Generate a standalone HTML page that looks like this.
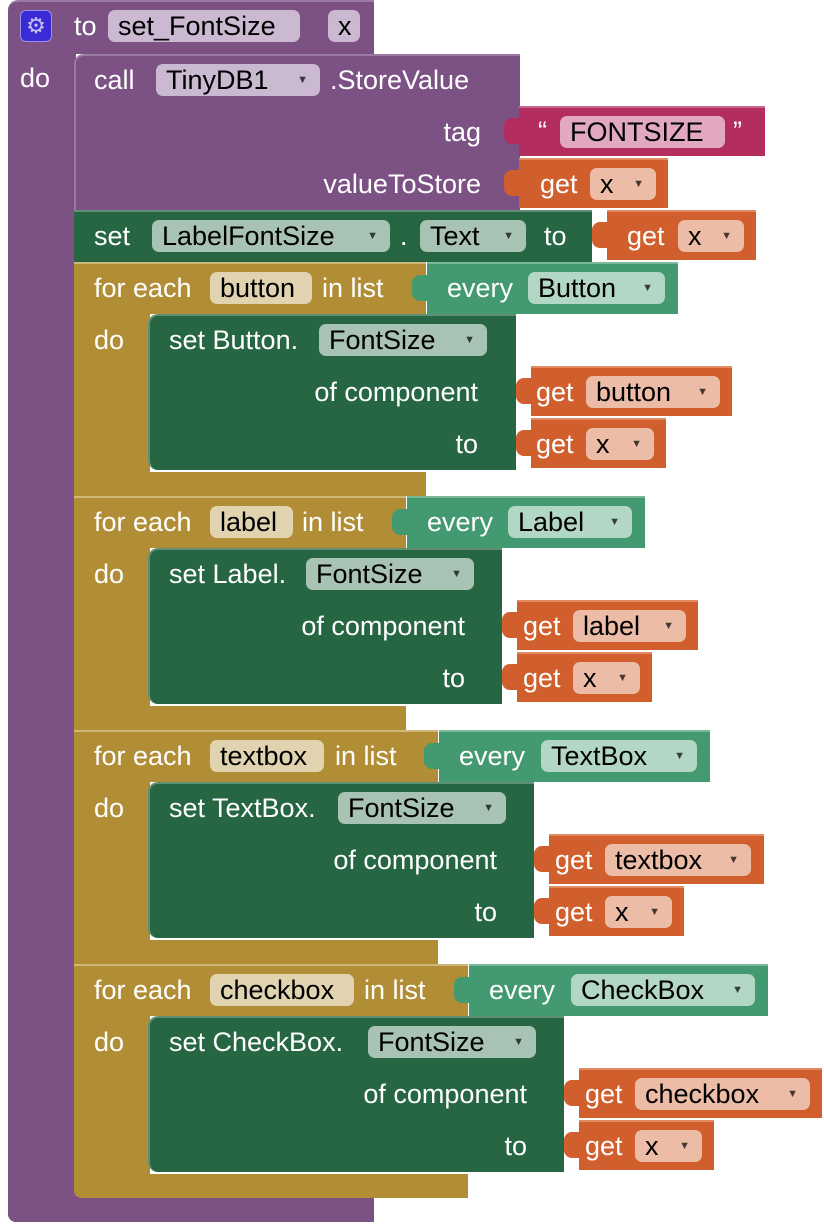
<!DOCTYPE html>
<html><head><meta charset="utf-8"><style>
*{margin:0;padding:0;box-sizing:border-box}
body{width:824px;height:1224px;background:#fff;position:relative;overflow:hidden;font-family:"Liberation Sans",Arial,sans-serif;font-size:27px}
.a{position:absolute}
.t{position:absolute;color:#fff;white-space:nowrap;line-height:30px}
.p{position:absolute;border-radius:7px;color:#000;white-space:nowrap;line-height:32px;padding:0 10px;height:32px;overflow:hidden}
.dd:after{content:"▼";font-size:11px;position:absolute;right:12px;top:0;opacity:.7}
.pu{background:#7c5285}
.dg{background:#266643}
.go{background:#b18e35}
.lg{background:#439970}
.or{background:#d05f2d}
.mg{background:#b32d5e}
.tab{position:absolute;width:16px;height:26px;border-radius:8px 0 0 8px}
</style></head><body>
<!-- procedure -->
<div class="a pu" style="left:8px;top:0;width:366px;height:54px;border-radius:10px 0 0 0;border-top:2px solid #9a7aa3"></div>
<div class="a pu" style="left:8px;top:50px;width:68px;height:1172px;border-radius:0 0 0 8px"></div>
<div class="a pu" style="left:8px;top:1196px;width:366px;height:26px;border-radius:0 0 0 8px"></div>
<div class="a" style="left:20px;top:10px;width:32px;height:32px;background:#3a2bd6;border-radius:6px;border:1px solid #9a8fe8;color:#c8c0f0;font-size:22px;line-height:30px;text-align:center">⚙</div>
<div class="t" style="left:74px;top:11px">to</div>
<div class="p" style="left:108px;top:10px;width:192px;background:#cbb8d1">set_FontSize</div>
<div class="p" style="left:328px;top:10px;width:32px;background:#cbb8d1">x</div>
<div class="t" style="left:20px;top:63px">do</div>
<!-- call -->
<div class="a pu" style="left:74px;top:54px;width:446px;height:158px;border-radius:10px 0 0 0;border-left:2px solid #9a7aa3;border-top:2px solid #9a7aa3"></div>
<div class="t" style="left:94px;top:65px">call</div>
<div class="p dd" style="left:156px;top:64px;width:164px;background:#cbb8d1">TinyDB1</div>
<div class="t" style="left:330px;top:65px">.StoreValue</div>
<div class="t" style="right:343px;top:117px">tag</div>
<div class="t" style="right:343px;top:169px">valueToStore</div>
<div class="a mg" style="left:519px;top:106px;width:246px;height:50px;border-top:2px solid #c9648a"></div>
<div class="tab mg" style="left:504px;top:118px"></div>
<div class="t" style="left:538px;top:116px">“</div>
<div class="p" style="left:560px;top:116px;width:165px;background:#e2a8c0">FONTSIZE</div>
<div class="t" style="left:733px;top:116px">”</div>
<div class="a or" style="left:519px;top:158px;width:149px;height:50px;border-top:2px solid #e08a62"></div>
<div class="tab or" style="left:504px;top:170px"></div>
<div class="t" style="left:540px;top:169px">get</div>
<div class="p dd" style="left:590px;top:168px;width:66px;background:#ecbca6">x</div>
<!-- set LabelFontSize -->
<div class="a dg" style="left:74px;top:210px;width:518px;height:52px;border-top:2px solid #5f8f75"></div>
<div class="t" style="left:94px;top:221px">set</div>
<div class="p dd" style="left:152px;top:220px;width:238px;background:#a8c2b4">LabelFontSize</div>
<div class="t" style="left:400px;top:221px">.</div>
<div class="p dd" style="left:420px;top:220px;width:106px;background:#a8c2b4">Text</div>
<div class="t" style="left:544px;top:221px">to</div>
<div class="a or" style="left:607px;top:210px;width:149px;height:50px;border-top:2px solid #e08a62"></div>
<div class="tab or" style="left:592px;top:222px"></div>
<div class="t" style="left:627px;top:221px">get</div>
<div class="p dd" style="left:678px;top:220px;width:66px;background:#ecbca6">x</div>

<!-- foreach button (top 262) -->
<div class="a go" style="left:74px;top:262px;width:352px;height:52px;border-top:2px solid #cdb87a"></div>
<div class="a go" style="left:74px;top:312px;width:76px;height:184px"></div>
<div class="a go" style="left:74px;top:472px;width:352px;height:24px"></div>
<div class="t" style="left:94px;top:273px">for each</div>
<div class="p" style="left:210px;top:272px;width:102px;background:#e2d3b0">button</div>
<div class="t" style="left:322px;top:273px">in list</div>
<div class="t" style="left:94px;top:325px">do</div>
<div class="a lg" style="left:427px;top:262px;width:251px;height:52px;border-top:2px solid #7bb89a"></div>
<div class="tab lg" style="left:412px;top:275px"></div>
<div class="t" style="left:447px;top:273px">every</div>
<div class="p dd" style="left:528px;top:272px;width:137px;background:#b3d7c5">Button</div>
<div class="a dg" style="left:148px;top:314px;width:368px;height:156px;border-radius:10px 0 0 10px;border-top:2px solid #5f8f75;border-left:2px solid #5f8f75"></div>
<div class="t" style="left:169px;top:325px">set Button.</div>
<div class="p dd" style="left:319px;top:324px;width:168px;background:#a8c2b4">FontSize</div>
<div class="t" style="right:346px;top:377px">of component</div>
<div class="t" style="right:346px;top:429px">to</div>
<div class="a or" style="left:531px;top:366px;width:201px;height:50px;border-top:2px solid #e08a62"></div>
<div class="tab or" style="left:516px;top:378px"></div>
<div class="t" style="left:536px;top:377px">get</div>
<div class="p dd" style="left:586px;top:376px;width:134px;background:#ecbca6">button</div>
<div class="a or" style="left:531px;top:418px;width:135px;height:50px;border-top:2px solid #e08a62"></div>
<div class="tab or" style="left:516px;top:430px"></div>
<div class="t" style="left:536px;top:429px">get</div>
<div class="p dd" style="left:586px;top:428px;width:68px;background:#ecbca6">x</div>

<!-- foreach label (top 496) -->
<div class="a go" style="left:74px;top:496px;width:332px;height:52px;border-top:2px solid #cdb87a"></div>
<div class="a go" style="left:74px;top:546px;width:76px;height:184px"></div>
<div class="a go" style="left:74px;top:706px;width:332px;height:24px"></div>
<div class="t" style="left:94px;top:507px">for each</div>
<div class="p" style="left:210px;top:506px;width:83px;background:#e2d3b0">label</div>
<div class="t" style="left:302px;top:507px">in list</div>
<div class="t" style="left:94px;top:559px">do</div>
<div class="a lg" style="left:407px;top:496px;width:238px;height:52px;border-top:2px solid #7bb89a"></div>
<div class="tab lg" style="left:392px;top:509px"></div>
<div class="t" style="left:427px;top:507px">every</div>
<div class="p dd" style="left:508px;top:506px;width:124px;background:#b3d7c5">Label</div>
<div class="a dg" style="left:148px;top:548px;width:354px;height:156px;border-radius:10px 0 0 10px;border-top:2px solid #5f8f75;border-left:2px solid #5f8f75"></div>
<div class="t" style="left:169px;top:559px">set Label.</div>
<div class="p dd" style="left:306px;top:558px;width:168px;background:#a8c2b4">FontSize</div>
<div class="t" style="right:359px;top:611px">of component</div>
<div class="t" style="right:359px;top:663px">to</div>
<div class="a or" style="left:517px;top:600px;width:181px;height:50px;border-top:2px solid #e08a62"></div>
<div class="tab or" style="left:502px;top:612px"></div>
<div class="t" style="left:523px;top:611px">get</div>
<div class="p dd" style="left:573px;top:610px;width:113px;background:#ecbca6">label</div>
<div class="a or" style="left:517px;top:652px;width:135px;height:50px;border-top:2px solid #e08a62"></div>
<div class="tab or" style="left:502px;top:664px"></div>
<div class="t" style="left:523px;top:663px">get</div>
<div class="p dd" style="left:573px;top:662px;width:67px;background:#ecbca6">x</div>

<!-- foreach textbox (top 730) -->
<div class="a go" style="left:74px;top:730px;width:364px;height:52px;border-top:2px solid #cdb87a"></div>
<div class="a go" style="left:74px;top:780px;width:76px;height:184px"></div>
<div class="a go" style="left:74px;top:940px;width:364px;height:24px"></div>
<div class="t" style="left:94px;top:741px">for each</div>
<div class="p" style="left:210px;top:740px;width:114px;background:#e2d3b0">textbox</div>
<div class="t" style="left:335px;top:741px">in list</div>
<div class="t" style="left:94px;top:793px">do</div>
<div class="a lg" style="left:439px;top:730px;width:271px;height:52px;border-top:2px solid #7bb89a"></div>
<div class="tab lg" style="left:424px;top:743px"></div>
<div class="t" style="left:459px;top:741px">every</div>
<div class="p dd" style="left:541px;top:740px;width:156px;background:#b3d7c5">TextBox</div>
<div class="a dg" style="left:148px;top:782px;width:386px;height:156px;border-radius:10px 0 0 10px;border-top:2px solid #5f8f75;border-left:2px solid #5f8f75"></div>
<div class="t" style="left:169px;top:793px">set TextBox.</div>
<div class="p dd" style="left:338px;top:792px;width:168px;background:#a8c2b4">FontSize</div>
<div class="t" style="right:327px;top:845px">of component</div>
<div class="t" style="right:327px;top:897px">to</div>
<div class="a or" style="left:549px;top:834px;width:215px;height:50px;border-top:2px solid #e08a62"></div>
<div class="tab or" style="left:534px;top:846px"></div>
<div class="t" style="left:555px;top:845px">get</div>
<div class="p dd" style="left:605px;top:844px;width:146px;background:#ecbca6">textbox</div>
<div class="a or" style="left:549px;top:886px;width:135px;height:50px;border-top:2px solid #e08a62"></div>
<div class="tab or" style="left:534px;top:898px"></div>
<div class="t" style="left:555px;top:897px">get</div>
<div class="p dd" style="left:605px;top:896px;width:67px;background:#ecbca6">x</div>

<!-- foreach checkbox (top 964) -->
<div class="a go" style="left:74px;top:964px;width:394px;height:52px;border-top:2px solid #cdb87a"></div>
<div class="a go" style="left:74px;top:1014px;width:76px;height:184px;border-radius:0 0 0 8px"></div>
<div class="a go" style="left:74px;top:1174px;width:394px;height:24px;border-radius:0 0 0 8px"></div>
<div class="t" style="left:94px;top:975px">for each</div>
<div class="p" style="left:210px;top:974px;width:144px;background:#e2d3b0">checkbox</div>
<div class="t" style="left:364px;top:975px">in list</div>
<div class="t" style="left:94px;top:1027px">do</div>
<div class="a lg" style="left:469px;top:964px;width:299px;height:52px;border-top:2px solid #7bb89a"></div>
<div class="tab lg" style="left:454px;top:977px"></div>
<div class="t" style="left:489px;top:975px">every</div>
<div class="p dd" style="left:571px;top:974px;width:184px;background:#b3d7c5">CheckBox</div>
<div class="a dg" style="left:148px;top:1016px;width:416px;height:156px;border-radius:10px 0 0 10px;border-top:2px solid #5f8f75;border-left:2px solid #5f8f75"></div>
<div class="t" style="left:169px;top:1027px">set CheckBox.</div>
<div class="p dd" style="left:368px;top:1026px;width:168px;background:#a8c2b4">FontSize</div>
<div class="t" style="right:297px;top:1079px">of component</div>
<div class="t" style="right:297px;top:1131px">to</div>
<div class="a or" style="left:579px;top:1068px;width:243px;height:50px;border-top:2px solid #e08a62"></div>
<div class="tab or" style="left:564px;top:1080px"></div>
<div class="t" style="left:585px;top:1079px">get</div>
<div class="p dd" style="left:635px;top:1078px;width:175px;background:#ecbca6">checkbox</div>
<div class="a or" style="left:579px;top:1120px;width:135px;height:50px;border-top:2px solid #e08a62"></div>
<div class="tab or" style="left:564px;top:1132px"></div>
<div class="t" style="left:585px;top:1131px">get</div>
<div class="p dd" style="left:635px;top:1130px;width:67px;background:#ecbca6">x</div>
</body></html>
